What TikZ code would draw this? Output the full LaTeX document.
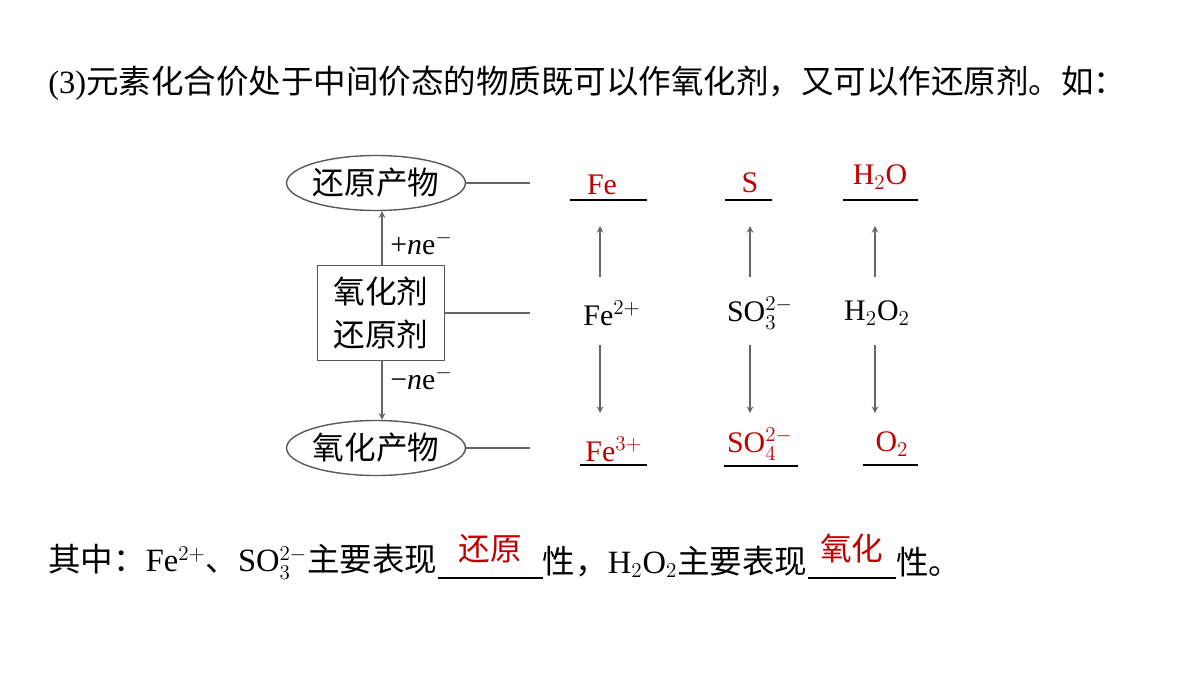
\documentclass[tikz,border=0pt]{standalone}
\usepackage{fontspec}
\setmainfont{Liberation Serif}
\newfontfamily\cjk{Noto Sans CJK SC}
\usetikzlibrary{shapes.geometric,calc}
\definecolor{ans}{RGB}{192,0,0}
\tikzset{
  px/.style={x=0.02cm,y=-0.02cm},
  conn/.style={draw=gray!80!black,line width=0.7pt},
  arr/.style={conn,-stealth},
  uline/.style={draw=black,line width=0.8pt},
  txt/.style={inner sep=0pt,font=\fontsize{17}{20}\selectfont},
  big/.style={inner sep=0pt,font=\fontsize{18.5}{22}\selectfont},
  red/.style={txt,text=ans},
  ell/.style={ellipse,draw=gray!70!black,line width=0.8pt,minimum width=3.2cm,minimum height=1.1cm,inner sep=0pt,font=\fontsize{18}{21}\selectfont\cjk},
}
\begin{document}
\begin{tikzpicture}[px]
\useasboundingbox (0,0) rectangle (1200,676);
\node[big,anchor=west] (title) at (48,83) {(3){\cjk 元素化合价处于中间价态的物质既可以作氧化剂，又可以作还原剂。如：}};
\node[ell] (red) at (376,183) {还原产物};
\node[ell] (ox) at (376,448) {氧化产物};
\node[draw=gray!70!black,line width=0.8pt,minimum width=2.54cm,minimum height=1.9cm,align=center,inner sep=0pt,font=\fontsize{18}{24}\selectfont\cjk] (box) at (381,313) {氧化剂\\还原剂};
\coordinate (r1) at (530,183); \coordinate (r2) at (530,313); \coordinate (r3) at (530,448);
\draw[conn] (red.east) -- (r1);
\draw[conn] (box.east) -- (r2);
\draw[conn] (ox.east) -- (r3);
\draw[arr] (box.north -| 382,0) -- (red.south -| 382,0);
\draw[arr] (box.south -| 382,0) -- (ox.north -| 382,0);
\node[txt,anchor=west] (l1) at (390,243) {+\textit{n}e$^{-}$};
\node[txt,anchor=west] (l2) at (390,378) {−\textit{n}e$^{-}$};
% middle
\node[txt] (m1) at (612,313) {Fe$^{2+}$};
\node[txt] (m2) at (760,313) {SO$_3^{2-}$};
\node[txt] (m3) at (877,313) {H$_2$O$_2$};
% top answers
\node[red] (t1) at (602,185) {Fe};
\node[red] (t2) at (750,183) {S};
\node[red] (t3) at (880,177) {H$_2$O};
\draw[uline] (570,200) -- (647,200);
\draw[uline] (725,200) -- (772,200);
\draw[uline] (843,200) -- (918,200);
% bottom answers
\node[red] (b1) at (614,449) {Fe$^{3+}$};
\node[red] (b2) at (760,444) {SO$_4^{2-}$};
\node[red] (b3) at (892,444) {O$_2$};
\draw[uline] (580,465) -- (647,465);
\draw[uline] (724,466) -- (798,466);
\draw[uline] (863,465) -- (918,465);
% arrows
\draw[arr] (600,277) -- (600,226);
\draw[arr] (750,277) -- (750,226);
\draw[arr] (875,277) -- (875,226);
\draw[arr] (600,345) -- (600,413);
\draw[arr] (750,345) -- (750,413);
\draw[arr] (875,345) -- (875,413);
% bottom sentence
\node[big,anchor=west] (s1) at (48,562) {{\cjk 其中：}Fe$^{2+}${\cjk 、}SO$_3^{2-}${\cjk 主要表现}};
\coordinate (u1) at ([yshift=-0.32cm]s1.east);
\coordinate (u2) at ([xshift=2.1cm]u1);
\draw[uline] (u1) -- (u2);
\node[big,anchor=west] (s2) at (s1.east -| u2) {{\cjk 性，}H$_2$O$_2${\cjk 主要表现}};
\coordinate (u3) at (s2.east |- u1);
\coordinate (u4) at ([xshift=1.76cm]u3);
\draw[uline] (u3) -- (u4);
\node[big,anchor=west] (s3) at (s2.east -| u4) {{\cjk 性。}};
\node[big,text=ans,font=\fontsize{18}{21}\selectfont\cjk,anchor=south] (a1) at ($(u1)!0.5!(u2)+(0,0.3cm)$) {还原};
\node[big,text=ans,font=\fontsize{18}{21}\selectfont\cjk,anchor=south] (a2) at ($(u3)!0.5!(u4)+(0,0.3cm)$) {氧化};
\end{tikzpicture}
\end{document}
